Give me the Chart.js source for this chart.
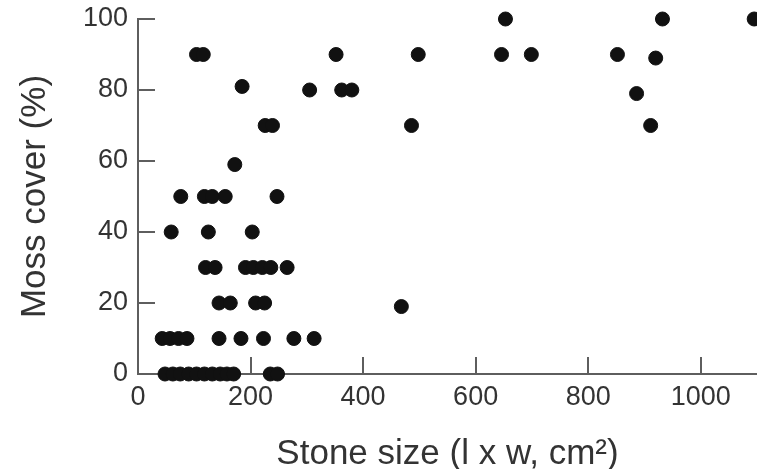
<!DOCTYPE html>
<html>
<head>
<meta charset="utf-8">
<script src="https://cdn.jsdelivr.net/npm/chart.js@4/dist/chart.umd.min.js"></script>
<style>
html, body { margin: 0; padding: 0; background: #fff; }
#wrap { width: 757px; height: 469px; }
</style>
</head>
<body>
<div id="wrap"><canvas id="myChart"></canvas></div>
<script>
// stone size (l x w, cm2) and moss cover (%), one entry per stone
var stoneSize = [
    653, 932, 1095,
    104, 116, 352, 498, 646, 699, 852, 920,
    185, 305, 362, 380, 886,
    226, 239, 486, 911,
    172,
    76, 118, 132, 155, 247,
    59, 125, 203,
    120, 137, 191, 205, 221, 236, 265,
    144, 164, 209, 225, 468,
    43, 57, 72, 87, 144, 183, 223, 277, 313,
    48, 62, 75, 90, 104, 118, 132, 146, 158, 170, 235, 248
];
var mossCover = [
    100, 100, 100,
    90, 90, 90, 90, 90, 90, 90, 89,
    81, 80, 80, 80, 79,
    70, 70, 70, 70,
    59,
    50, 50, 50, 50, 50,
    40, 40, 40,
    30, 30, 30, 30, 30, 30, 30,
    20, 20, 20, 20, 19,
    10, 10, 10, 10, 10, 10, 10, 10, 10,
    0, 0, 0, 0, 0, 0, 0, 0, 0, 0, 0, 0
];
var xTicks = [0, 200, 400, 600, 800, 1000];
var yTicks = [0, 20, 40, 60, 80, 100];

var axisColor = '#5e5e5e';
var textColor = '#333333';

Chart.defaults.font.family = '"Liberation Sans", Arial, sans-serif';

function makePoints(){
    var pts = [];
    for ( var i = 0; i < stoneSize.length; i++ ){
        pts.push({ x: stoneSize[i], y: mossCover[i] });
    }
    return pts;
}

// short tick marks pointing into the plot, like the original figure
var innerTicks = {
    id: 'innerTicks',
    beforeDatasetsDraw: function(chart){
        var ctx = chart.ctx;
        var xs = chart.scales.x, ys = chart.scales.y;
        var area = chart.chartArea;
        ctx.save();
        ctx.strokeStyle = axisColor;
        ctx.lineWidth = 2;
        ctx.beginPath();
        for ( var i = 0; i < xTicks.length; i++ ){
            if (xTicks[i] === 0) continue;
            var px = Math.round(xs.getPixelForValue(xTicks[i]));
            ctx.moveTo(px, area.bottom);
            ctx.lineTo(px, area.bottom - 17);
        }
        for ( var j = 0; j < yTicks.length; j++ ){
            if (yTicks[j] === 0) continue;
            var py = Math.round(ys.getPixelForValue(yTicks[j]));
            ctx.moveTo(area.left, py);
            ctx.lineTo(area.left + 17, py);
        }
        ctx.stroke();
        ctx.restore();
    }
};

var ctx = document.getElementById('myChart').getContext('2d');
var chart = new Chart(ctx, {
    type: 'scatter',
    data: {
        datasets: [{
            data: makePoints(),
            backgroundColor: '#111111',
            borderColor: '#111111',
            borderWidth: 1,
            pointRadius: 7,
            pointHoverRadius: 7,
            clip: false
        }]
    },
    options: {
        responsive: true,
        maintainAspectRatio: false,
        animation: false,
        layout: { autoPadding: false, padding: { top: 19, right: 0, left: 0, bottom: 0 } },
        plugins: {
            legend: { display: false },
            tooltip: { enabled: false }
        },
        scales: {
            x: {
                type: 'linear',
                min: 0,
                max: 1100,
                afterBuildTicks: function(s){ s.ticks = xTicks.map(function(v){ return { value: v }; }); },
                afterFit: function(s){ s.height = 95; },
                grid: { display: false, drawTicks: false },
                border: { display: true, color: axisColor, width: 2 },
                ticks: {
                    color: textColor, font: { size: 27 }, padding: 7, maxRotation: 0,
                    callback: function(v){ return String(v); }
                },
                title: {
                    display: true,
                    text: 'Stone size (l x w, cm\u00b2)',
                    color: textColor,
                    font: { size: 35, lineHeight: 0.85 },
                    padding: 0
                }
            },
            y: {
                min: 0,
                max: 100,
                afterBuildTicks: function(s){ s.ticks = yTicks.map(function(v){ return { value: v }; }); },
                afterFit: function(s){
                    s.width = 138;
                    s.paddingTop = 0;
                    s.paddingBottom = 0;
                },
                grid: { display: false, drawTicks: false },
                border: { display: true, color: axisColor, width: 2 },
                ticks: { color: textColor, font: { size: 27 }, padding: 10 },
                title: {
                    display: true,
                    text: 'Moss cover (%)',
                    color: textColor,
                    font: { size: 35, lineHeight: 0.85 },
                    padding: { top: 20, bottom: 0 }
                }
            }
        }
    },
    plugins: [innerTicks]
});
</script>
</body>
</html>
